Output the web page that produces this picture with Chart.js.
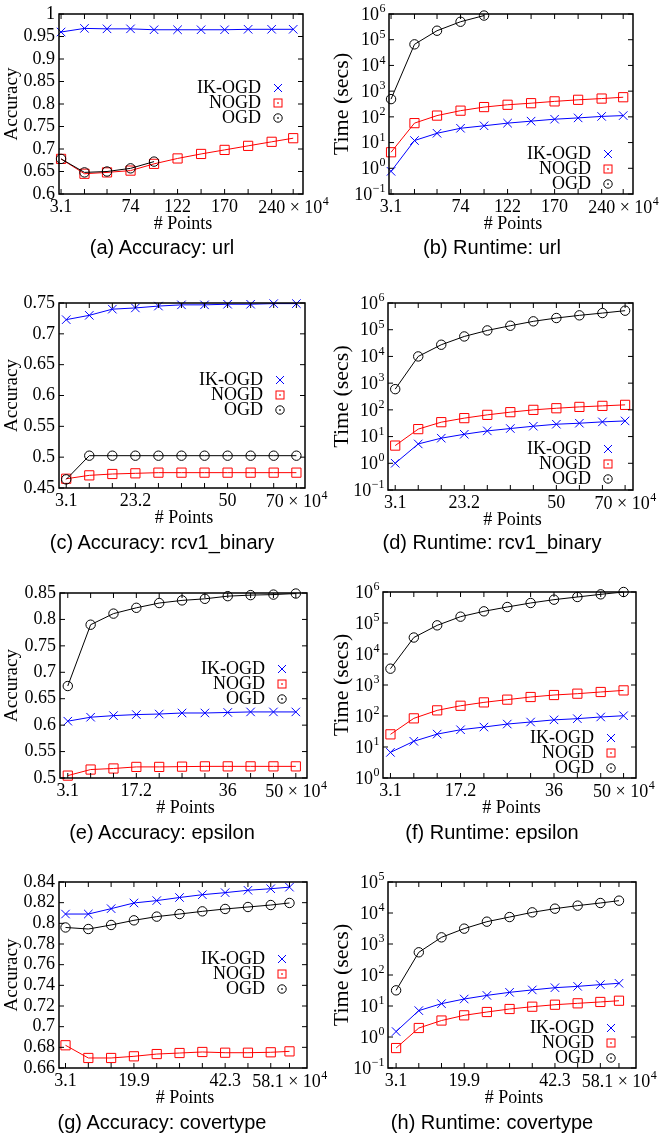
<!DOCTYPE html>
<html>
<head>
<meta charset="utf-8">
<script src="https://cdn.jsdelivr.net/npm/chart.js@4.4.1/dist/chart.umd.min.js"></script>
<style>
  body { margin: 0; background: #fff; width: 660px; height: 1136px; position: relative; overflow: hidden; }
  .cap { position: absolute; width: 300px; text-align: center; font: 20px "Liberation Sans", Arial, sans-serif; line-height: 24px; color: #000; }
</style>
</head>
<body>
<script>
// x positions (# points, x 10^4)
const ptsUrl  = [3.1, 27, 50, 74, 98, 122, 146, 170, 194, 218, 240];
const ptsRcv1 = [3.1, 9.8, 16.5, 23.2, 29.9, 36.6, 43.3, 50, 56.7, 63.4, 70];
const ptsEps  = [3.1, 7.8, 12.5, 17.2, 21.9, 26.6, 31.3, 36, 40.7, 45.4, 50];
const ptsCov  = [3.1, 8.7, 14.3, 19.9, 25.5, 31.1, 36.7, 42.3, 47.9, 53.5, 58.1];

// labelled x ticks
const xLabUrl  = [3.1, 74, 122, 170, 240];
const xLabRcv1 = [3.1, 23.2, 50, 70];
const xLabEps  = [3.1, 17.2, 36, 50];
const xLabCov  = [3.1, 19.9, 42.3, 58.1];

// accuracy
const accUrlIK   = [0.960, 0.968, 0.967, 0.967, 0.965, 0.965, 0.965, 0.965, 0.966, 0.966, 0.966];
const accUrlNOGD = [0.678, 0.645, 0.648, 0.652, 0.667, 0.679, 0.689, 0.698, 0.707, 0.716, 0.724];
const accUrlOGD  = [0.678, 0.648, 0.650, 0.657, 0.672];

const accRcvIK   = [0.723, 0.730, 0.740, 0.742, 0.745, 0.747, 0.747, 0.748, 0.748, 0.749, 0.749];
const accRcvNOGD = [0.465, 0.4705, 0.4727, 0.4738, 0.4749, 0.4749, 0.4749, 0.4749, 0.4749, 0.4749, 0.4749];
const accRcvOGD  = [0.464, 0.5024, 0.5024, 0.5024, 0.5024, 0.5024, 0.5024, 0.5024, 0.5024, 0.5024, 0.5024];

const accEpsIK   = [0.6075, 0.615, 0.618, 0.620, 0.621, 0.623, 0.623, 0.624, 0.625, 0.625, 0.625];
const accEpsNOGD = [0.5045, 0.516, 0.518, 0.521, 0.521, 0.5215, 0.522, 0.522, 0.522, 0.522, 0.522];
const accEpsOGD  = [0.674, 0.790, 0.811, 0.822, 0.831, 0.836, 0.839, 0.844, 0.846, 0.847, 0.849];

const accCovIK   = [0.809, 0.809, 0.8142, 0.8197, 0.822, 0.825, 0.8277, 0.8297, 0.832, 0.8335, 0.835];
const accCovNOGD = [0.682, 0.6697, 0.6697, 0.6713, 0.6735, 0.6745, 0.6755, 0.6748, 0.6748, 0.6752, 0.6761];
const accCovOGD  = [0.796, 0.7945, 0.7984, 0.8029, 0.8065, 0.809, 0.8116, 0.8139, 0.8158, 0.8177, 0.8197];

// runtime (secs)
const timeUrlIK   = [0.76, 12, 23, 36, 45, 57, 68, 81, 91, 104, 112];
const timeUrlNOGD = [4.2, 57, 112, 174, 240, 295, 340, 400, 460, 515, 580];
const timeUrlOGD  = [490, 66000, 224000, 500000, 870000];

const timeRcvIK   = [1.0, 5.3, 8.7, 12.2, 16.3, 20, 24.4, 29, 31.6, 35.5, 38.5];
const timeRcvNOGD = [4.6, 19, 34.6, 49, 65, 82, 100, 115, 129, 141, 154];
const timeRcvOGD  = [596, 10000, 27400, 56000, 94000, 141000, 206000, 274000, 345000, 420000, 516000];

const timeEpsIK   = [6.7, 15.3, 26.1, 36, 44, 55, 64, 75, 82, 93, 102];
const timeEpsNOGD = [25.6, 84, 152, 214, 275, 337, 410, 475, 525, 595, 670];
const timeEpsOGD  = [3360, 34000, 84000, 160000, 238000, 328000, 442000, 566000, 690000, 841000, 1000000];

const timeCovIK   = [1.5, 7.1, 11.9, 16.8, 22, 27.6, 33, 39, 43, 49, 54];
const timeCovNOGD = [0.44, 1.95, 3.4, 5.0, 6.4, 8.0, 9.5, 11, 12.2, 13.5, 14.8];
const timeCovOGD  = [32, 540, 1640, 3130, 5250, 7400, 10500, 13800, 17300, 21000, 25000];

// y tick labels
const accTicksUrl = [0.6, 0.65, 0.7, 0.75, 0.8, 0.85, 0.9, 0.95, 1];
const accTicksRcv = [0.45, 0.5, 0.55, 0.6, 0.65, 0.7, 0.75];
const accTicksEps = [0.5, 0.55, 0.6, 0.65, 0.7, 0.75, 0.8, 0.85];
const accTicksCov = [0.66, 0.68, 0.7, 0.72, 0.74, 0.76, 0.78, 0.8, 0.82, 0.84];
const timeExpUrl = [-1, 0, 1, 2, 3, 4, 5, 6];
const timeExpRcv = [-1, 0, 1, 2, 3, 4, 5, 6];
const timeExpEps = [0, 1, 2, 3, 4, 5, 6];
const timeExpCov = [-1, 0, 1, 2, 3, 4, 5];

const SERIF = '"Liberation Serif", "Times New Roman", serif';
const BLUE = '#0000ff', RED = '#ff0000', BLACK = '#000000';

// "10" + exponente pequeño, alineado a la derecha en (xr, y)
function drawPow(ctx, base, exp, xr, y, align) {
  ctx.font = '18px ' + SERIF;
  const bw = ctx.measureText(base).width;
  ctx.font = '12px ' + SERIF;
  const ew = ctx.measureText(exp).width;
  let x0 = align === 'center' ? xr - (bw + ew) / 2 : xr - bw - ew;
  ctx.textAlign = 'left';
  ctx.textBaseline = 'middle';
  ctx.font = '18px ' + SERIF;
  ctx.fillText(base, x0, y + 1);
  ctx.font = '12px ' + SERIF;
  ctx.fillText(exp, x0 + bw + 0.5, y - 5);
}

// marcos + ticks hacia dentro + títulos + leyenda
const framePlugin = {
  id: 'frame',
  afterDraw(chart, args, opts) {
    const { ctx, chartArea: a, scales: { x, y } } = chart;
    ctx.save();
    ctx.strokeStyle = '#000';
    ctx.lineWidth = 1;
    ctx.beginPath();
    x.ticks.forEach(t => {
      const px = x.getPixelForValue(t.value);
      ctx.moveTo(px, a.bottom); ctx.lineTo(px, a.bottom - 5);
      ctx.moveTo(px, a.top); ctx.lineTo(px, a.top + 5);
    });
    y.ticks.forEach(t => {
      const py = y.getPixelForValue(t.value);
      ctx.moveTo(a.left, py); ctx.lineTo(a.left + 5, py);
      ctx.moveTo(a.right, py); ctx.lineTo(a.right - 5, py);
    });
    ctx.stroke();
    ctx.lineWidth = 1.5;
    ctx.strokeRect(a.left, a.top, a.right - a.left, a.bottom - a.top);

    ctx.fillStyle = '#000';
    // etiquetas log del eje y
    if (opts.log) {
      y.ticks.forEach(t => {
        const e = Math.round(Math.log10(t.value));
        drawPow(ctx, '10', e < 0 ? '\u2212' + (-e) : String(e), a.left - 4, y.getPixelForValue(t.value), 'right');
      });
    }
    // última etiqueta del eje x con "× 10^4"
    drawPow(ctx, opts.xLast + ' \u00d7 10', '4', x.getPixelForValue(opts.xLast), a.bottom + 13, 'center');

    // títulos de ejes
    ctx.font = '18px ' + SERIF;
    ctx.textAlign = 'center';
    ctx.textBaseline = 'middle';
    ctx.fillText('# Points', (a.left + a.right) / 2 + 2, a.bottom + 30);
    ctx.save();
    ctx.translate(12, (a.top + a.bottom) / 2);
    ctx.rotate(-Math.PI / 2);
    ctx.font = (opts.log ? 22 : 19) + 'px ' + SERIF;
    ctx.fillText(opts.log ? 'Time (secs)' : 'Accuracy', 0, 0);
    ctx.restore();

    // leyenda
    ctx.font = '18px ' + SERIF;
    ctx.textAlign = 'right';
    ctx.textBaseline = 'middle';
    chart.data.datasets.forEach((ds, i) => {
      const ty = a.top + opts.top + i * 15;
      ctx.fillStyle = '#000';
      ctx.fillText(ds.label, a.right - 42, ty);
      const mx = a.right - 25;
      ctx.strokeStyle = ds.borderColor;
      ctx.fillStyle = ds.borderColor;
      ctx.lineWidth = 1;
      ctx.beginPath();
      if (ds.pointStyle === 'crossRot') {
        ctx.moveTo(mx - 4, ty - 4); ctx.lineTo(mx + 4, ty + 4);
        ctx.moveTo(mx + 4, ty - 4); ctx.lineTo(mx - 4, ty + 4);
        ctx.stroke();
      } else if (ds.pointStyle === 'rect') {
        ctx.strokeRect(mx - 4, ty - 4, 8, 8);
        ctx.fillRect(mx - 0.75, ty - 0.75, 1.5, 1.5);
      } else {
        ctx.arc(mx, ty, 4.2, 0, Math.PI * 2);
        ctx.stroke();
        ctx.fillRect(mx - 0.75, ty - 0.75, 1.5, 1.5);
      }
    });
    ctx.restore();
  }
};

function mkPanel(p) {
  const [L, T, R, B] = p.box;
  const padTop = Math.min(16, T);
  const cvTop = T - padTop;
  const cvH = B - T + padTop + 44;
  const cv = document.createElement('canvas');
  cv.width = 330;
  cv.height = cvH;
  cv.style.cssText = `position:absolute;left:${p.x0}px;top:${cvTop}px;width:330px;height:${cvH}px`;
  document.body.appendChild(cv);

  const cap = document.createElement('div');
  cap.className = 'cap';
  cap.textContent = p.caption;
  cap.style.left = (p.x0 + 12) + 'px';
  cap.style.top = (p.capY - 12) + 'px';
  document.body.appendChild(cap);

  const series = [
    { label: 'IK-OGD', ys: p.ik, color: BLUE, style: 'crossRot', r: 6 },
    { label: 'NOGD', ys: p.nogd, color: RED, style: 'rect', r: 6.5 },
    { label: 'OGD', ys: p.ogd, color: BLACK, style: 'circle', r: 4.7 }
  ];
  const yVals = p.log ? p.yTicks.map(e => Math.pow(10, e)) : p.yTicks;
  const xLast = p.xLab[p.xLab.length - 1];

  new Chart(cv.getContext('2d'), {
    type: 'line',
    data: {
      datasets: series.map((s, i) => ({
        label: s.label,
        data: s.ys.map((v, j) => ({ x: p.xs[j], y: v })),
        borderColor: s.color,
        backgroundColor: 'transparent',
        borderWidth: 1,
        pointStyle: s.style,
        pointRadius: s.r,
        pointBorderColor: s.color,
        pointBackgroundColor: 'transparent',
        pointBorderWidth: 1,
        tension: 0,
        clip: false,
        order: 3 - i
      }))
    },
    options: {
      responsive: false,
      animation: false,
      devicePixelRatio: 1,
      events: [],
      layout: { padding: { top: padTop, left: 0, bottom: 0, right: p.x0 + 330 - R } },
      plugins: {
        legend: { display: false },
        tooltip: { enabled: false },
        frame: { top: p.legTop, log: p.log, xLast: xLast }
      },
      scales: {
        x: {
          type: 'linear',
          min: p.xMin,
          max: p.xMax,
          grid: { display: false, drawTicks: false },
          border: { display: false },
          afterBuildTicks: s => { s.ticks = p.xs.map(v => ({ value: v })); },
          ticks: {
            autoSkip: false,
            maxRotation: 0,
            minRotation: 0,
            color: '#000',
            padding: 2,
            font: { family: SERIF, size: 18 },
            callback: v => (p.xLab.indexOf(v) < 0 || v === xLast) ? '' : String(v)
          },
          afterFit: s => { s.height = 44; s.paddingLeft = 0; s.paddingRight = 0; }
        },
        y: {
          type: p.log ? 'logarithmic' : 'linear',
          min: yVals[0],
          max: yVals[yVals.length - 1],
          grid: { display: false, drawTicks: false },
          border: { display: false },
          afterBuildTicks: s => { s.ticks = yVals.map(v => ({ value: v })); },
          ticks: {
            display: !p.log,
            autoSkip: false,
            color: '#000',
            padding: 4,
            font: { family: SERIF, size: 18 },
            callback: v => String(v)
          },
          afterFit: s => { s.width = L - p.x0; s.paddingTop = 0; s.paddingBottom = 0; }
        }
      }
    },
    plugins: [framePlugin]
  });
}

mkPanel({ x0: 0, box: [59, 14, 303, 194], xMin: 1, xMax: 250, xs: ptsUrl, xLab: xLabUrl, log: false, yTicks: accTicksUrl,
  ik: accUrlIK, nogd: accUrlNOGD, ogd: accUrlOGD, legTop: 74, caption: '(a) Accuracy: url', capY: 247 });
mkPanel({ x0: 330, box: [389, 14, 633, 194], xMin: 1, xMax: 250, xs: ptsUrl, xLab: xLabUrl, log: true, yTicks: timeExpUrl,
  ik: timeUrlIK, nogd: timeUrlNOGD, ogd: timeUrlOGD, legTop: 140, caption: '(b) Runtime: url', capY: 247 });
mkPanel({ x0: 0, box: [59, 303, 305, 488], xMin: 1, xMax: 72.5, xs: ptsRcv1, xLab: xLabRcv1, log: false, yTicks: accTicksRcv,
  ik: accRcvIK, nogd: accRcvNOGD, ogd: accRcvOGD, legTop: 77, caption: '(c) Accuracy: rcv1_binary', capY: 542 });
mkPanel({ x0: 330, box: [388, 303, 633, 490], xMin: 1, xMax: 72.3, xs: ptsRcv1, xLab: xLabRcv1, log: true, yTicks: timeExpRcv,
  ik: timeRcvIK, nogd: timeRcvNOGD, ogd: timeRcvOGD, legTop: 146, caption: '(d) Runtime: rcv1_binary', capY: 542 });
mkPanel({ x0: 0, box: [60, 593, 307, 778], xMin: 1.5, xMax: 52.3, xs: ptsEps, xLab: xLabEps, log: false, yTicks: accTicksEps,
  ik: accEpsIK, nogd: accEpsNOGD, ogd: accEpsOGD, legTop: 76, caption: '(e) Accuracy: epsilon', capY: 832 });
mkPanel({ x0: 330, box: [383, 592, 636, 778], xMin: 1.6, xMax: 52.5, xs: ptsEps, xLab: xLabEps, log: true, yTicks: timeExpEps,
  ik: timeEpsIK, nogd: timeEpsNOGD, ogd: timeEpsOGD, legTop: 146, caption: '(f) Runtime: epsilon', capY: 832 });
mkPanel({ x0: 0, box: [59, 882, 307, 1068], xMin: 1.5, xMax: 62.4, xs: ptsCov, xLab: xLabCov, log: false, yTicks: accTicksCov,
  ik: accCovIK, nogd: accCovNOGD, ogd: accCovOGD, legTop: 77, caption: '(g) Accuracy: covertype', capY: 1122 });
mkPanel({ x0: 330, box: [388, 882, 636, 1068], xMin: 1.1, xMax: 62.3, xs: ptsCov, xLab: xLabCov, log: true, yTicks: timeExpCov,
  ik: timeCovIK, nogd: timeCovNOGD, ogd: timeCovOGD, legTop: 146, caption: '(h) Runtime: covertype', capY: 1122 });
</script>
</body>
</html>
